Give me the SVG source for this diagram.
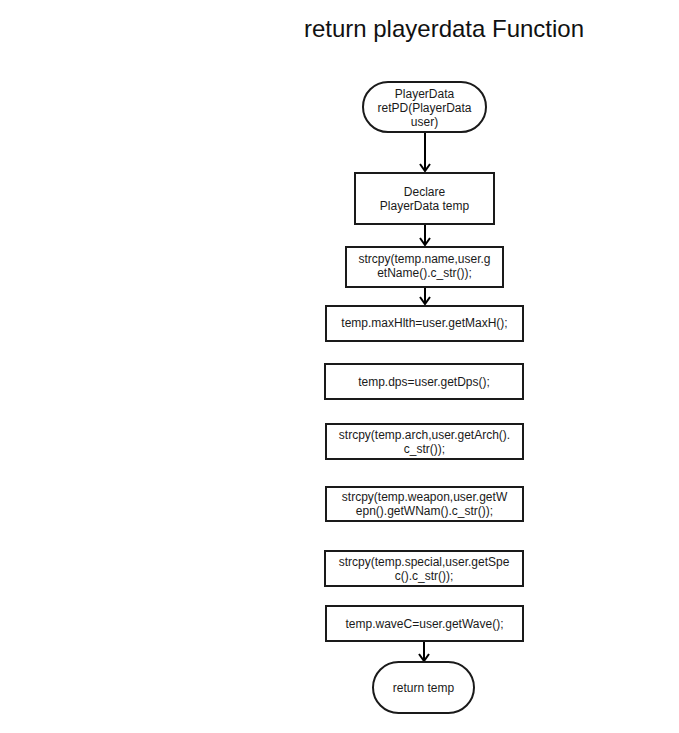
<svg xmlns="http://www.w3.org/2000/svg" width="679" height="733" viewBox="0 0 679 733">
<defs>
<style>
.n{fill:#fff;stroke:#1a1a1a;stroke-width:2}
.t{font-family:"Liberation Sans",Arial,sans-serif;font-size:12px;fill:#1a1a1a;text-anchor:middle}
.c{stroke:#000;stroke-width:2;fill:none}
</style>
<marker id="ah" markerWidth="12" markerHeight="12" refX="10" refY="6" orient="auto" markerUnits="userSpaceOnUse">
<path d="M3,1 L10,6 L3,11" fill="none" stroke="#000" stroke-width="2"/>
</marker>
</defs>
<rect width="679" height="733" fill="#fff"/>
<text x="444" y="37" font-family="'Liberation Sans',Arial,sans-serif" font-size="24" text-anchor="middle" fill="#111">return playerdata Function</text>
<g id="connectors">
<line class="c" x1="425" y1="133" x2="425" y2="171" marker-end="url(#ah)"/>
<line class="c" x1="425" y1="224" x2="425" y2="245" marker-end="url(#ah)"/>
<line class="c" x1="425" y1="287" x2="425" y2="304" marker-end="url(#ah)"/>
<line class="c" x1="424" y1="641" x2="424" y2="661" marker-end="url(#ah)"/>
</g>
<g id="start">
<rect class="n" x="363" y="82" width="123" height="50" rx="25" ry="25"/>
<text class="t" x="424.5" y="98">PlayerData</text>
<text class="t" x="424.5" y="112">retPD(PlayerData</text>
<text class="t" x="424.5" y="126">user)</text>
</g>
<g id="declare">
<rect class="n" x="355" y="173" width="139" height="51"/>
<text class="t" x="424.5" y="196">Declare</text>
<text class="t" x="424.5" y="210">PlayerData temp</text>
</g>
<g id="name">
<rect class="n" x="346" y="247" width="157" height="40"/>
<text class="t" x="424.5" y="263">strcpy(temp.name,user.g</text>
<text class="t" x="424.5" y="277">etName().c_str());</text>
</g>
<g id="maxhlth">
<rect class="n" x="326" y="306" width="197" height="35"/>
<text class="t" x="424.5" y="327">temp.maxHlth=user.getMaxH();</text>
</g>
<g id="dps">
<rect class="n" x="325" y="364" width="198" height="35"/>
<text class="t" x="424" y="386">temp.dps=user.getDps();</text>
</g>
<g id="arch">
<rect class="n" x="326" y="424" width="197" height="35"/>
<text class="t" x="424.5" y="439">strcpy(temp.arch,user.getArch().</text>
<text class="t" x="424.5" y="453">c_str());</text>
</g>
<g id="weapon">
<rect class="n" x="326" y="487" width="197" height="34"/>
<text class="t" x="424.5" y="501">strcpy(temp.weapon,user.getW</text>
<text class="t" x="424.5" y="515">epn().getWNam().c_str());</text>
</g>
<g id="special">
<rect class="n" x="325" y="551" width="198" height="35"/>
<text class="t" x="424" y="566">strcpy(temp.special,user.getSpe</text>
<text class="t" x="424" y="580">c().c_str());</text>
</g>
<g id="wavec">
<rect class="n" x="326" y="606" width="197" height="35"/>
<text class="t" x="424.5" y="628">temp.waveC=user.getWave();</text>
</g>
<g id="end">
<rect class="n" x="373" y="662" width="101" height="51" rx="25.5" ry="25.5"/>
<text class="t" x="423.5" y="692">return temp</text>
</g>
</svg>
